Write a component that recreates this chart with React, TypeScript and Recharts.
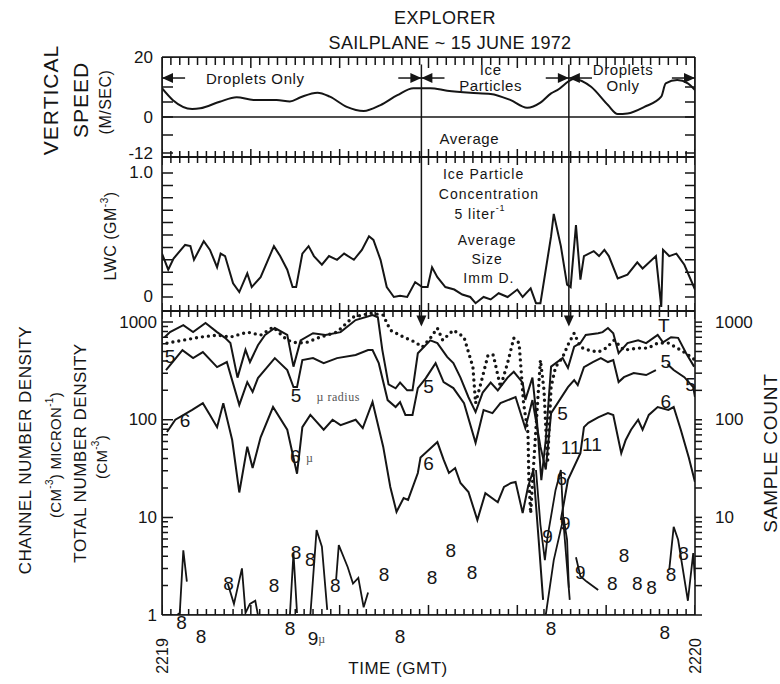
import React from 'react';
import { ComposedChart, Line, XAxis, YAxis, ReferenceLine, ReferenceDot } from 'recharts';

const W = 780;
const H = 684;
const INK = '#151515';
const FONT = '"Liberation Sans", Arial, sans-serif';
const SERIF = '"Liberation Serif", "DejaVu Serif", serif';

type Pt = [number, number | null];
type Note = [number, number, string];

// seconds after 2219 GMT
const secondTicks = Array.from({ length: 61 }, (_, i) => i);
const timeTicks = [0, 60];
const timeLabels = ['2219', '2220'];

const speedTicks = [20, 10, 5, 0, -6, -12];
const speedLabelled = [20, 0, -12];
const lwcTicks = [0, 0.1, 0.2, 0.3, 0.4, 0.5, 0.6, 0.7, 0.8, 0.9, 1.0];
const lwcLabelled = [0, 1.0];
const decades = [1, 10, 100, 1000];
const densityTicks = [1, 2, 3, 4, 5, 6, 7, 8, 9, 10, 20, 30, 40, 50, 60, 70, 80, 90, 100, 200, 300, 400, 500, 600, 700, 800, 900, 1000];

// sailplane vertical speed (m/s)
const speedPts: Pt[] = [
  [0, 9.6], [1.2, 5.7], [3.4, 2.7], [4.3, 2.9], [6.5, 5.1], [8.4, 6.6], [10.3, 5.7], [12.9, 5.7], [14.4, 5.2], [15.6, 6.6],
  [17.5, 8.1], [18.9, 6.8], [20.8, 3.4], [22.7, 2.0], [24.6, 4.0], [26.5, 7.3], [28.3, 9.6], [30.2, 9.6], [32.1, 8.8], [34.7, 8.1],
  [37.0, 7.7], [39.2, 5.7], [41.1, 3.1], [42.6, 4.8], [43.8, 7.9], [44.5, 9.0], [46.4, 12.7], [48.3, 10.1], [50.2, 4.0], [51.3, 1.0],
  [52.4, 1.2], [54.3, 3.4], [56.2, 6.8], [56.7, 11.2], [58.0, 12.3], [59.2, 11.2], [60, 9.0],
];

// liquid water content (g/m3)
const lwcPts: Pt[] = [
  [0, 0.35], [0.7, 0.22], [1.3, 0.31], [2.6, 0.42], [3.2, 0.41], [3.6, 0.3], [4.7, 0.45], [5.4, 0.38], [6.2, 0.24], [6.6, 0.35],
  [7.1, 0.33], [8.0, 0.11], [8.7, 0.04], [9.6, 0.19], [10.1, 0.08], [11.1, 0.16], [12.6, 0.41], [13.3, 0.33], [14.1, 0.22], [14.7, 0.08],
  [15.1, 0.08], [15.8, 0.35], [16.5, 0.41], [17.1, 0.33], [18.0, 0.26], [18.8, 0.33], [19.7, 0.3], [20.5, 0.35], [21.6, 0.3], [22.5, 0.38],
  [23.3, 0.49], [23.8, 0.46], [24.6, 0.3], [25.3, 0.08], [26.1, 0.0], [26.8, 0.01], [27.6, 0.0], [28.5, 0.12], [29.3, 0.08], [29.9, 0.08],
  [30.4, 0.24], [31.0, 0.16], [31.9, 0.08], [32.9, 0.06], [33.8, 0.02], [34.7, 0.0], [35.3, -0.05], [36.2, 0.0], [37.0, -0.02], [37.9, 0.03],
  [38.9, 0.0], [40.0, 0.06], [40.6, 0.0], [41.5, 0.07], [42.1, -0.05], [42.6, -0.05], [43.8, 0.49], [44.1, 0.67], [44.9, 0.41], [45.6, 0.1],
  [46.0, 0.08], [46.6, 0.58], [47.1, 0.14], [47.5, 0.33], [48.6, 0.37], [49.2, 0.33], [49.8, 0.38], [50.3, 0.33], [51.3, 0.15], [52.4, 0.18],
  [53.5, 0.28], [54.1, 0.23], [55.6, 0.33], [56.2, -0.08], [56.4, 0.38], [57.1, 0.33], [57.9, 0.35], [58.8, 0.26], [60, 0.06],
];

// total number density (cm-3)
const totalPts: Pt[] = [
  [0.3, 700], [0.9, 790], [2.4, 930], [3.5, 790], [4.9, 980], [6.2, 790], [7.1, 690], [7.7, 610], [8.5, 270], [9.4, 520],
  [9.9, 390], [10.8, 580], [11.6, 740], [12.7, 870], [14.1, 740], [14.8, 350], [15.6, 650], [17.0, 770], [18.4, 740], [20.1, 790],
  [21.8, 1050], [23.7, 1180], [24.3, 1120], [24.8, 520], [25.5, 230], [26.3, 210], [26.8, 240], [27.6, 200], [28.2, 200], [28.8, 480],
  [30.2, 650], [31.0, 610], [32.1, 440], [32.8, 380], [33.6, 270], [34.5, 170], [35.3, 120], [36.1, 190], [37.0, 240], [37.8, 200],
  [38.9, 270], [39.6, 310], [40.6, 240], [40.9, 160], [41.7, 270], [42.2, 100], [42.7, 24], [43.2, 62], [43.8, 350], [45.1, 430],
  [45.7, 340], [46.4, 560], [47.1, 610], [47.7, 740], [49.1, 770], [49.6, 790], [50.2, 870], [50.8, 770], [51.4, 480], [52.4, 610],
  [53.6, 650], [54.5, 610], [55.8, 740], [56.4, 620], [57.3, 700], [58.1, 690], [59.0, 480], [59.9, 350],
];

// sample count (dotted)
const samplePts: Pt[] = [
  [0.56, 610], [2.4, 654], [4.3, 702], [6.2, 736], [7.7, 702], [9.6, 790], [11.1, 736], [12.5, 889], [14.1, 654], [15.2, 610],
  [16.4, 624], [17.8, 702], [19.7, 790], [21.5, 1125], [23.5, 1236], [24.9, 1179], [25.7, 828], [27.2, 702], [28.5, 624], [29.3, 555],
  [30.2, 686], [31.0, 868], [31.6, 654], [32.8, 828], [34.0, 702], [35.0, 346], [35.3, 148], [35.9, 237], [36.7, 460], [37.3, 460],
  [38.1, 216], [38.9, 380], [39.6, 686], [40.2, 610], [40.7, 148], [41.2, 73], [41.3, 24], [41.5, 11], [41.8, 31], [42.3, 159],
  [42.6, 409], [43.0, 202], [43.4, 36], [43.8, 216], [44.3, 346], [45.1, 438], [45.8, 610], [46.4, 771], [47.1, 555], [48.0, 517],
  [49.1, 493], [50.0, 542], [50.9, 654], [52.0, 517], [53.6, 542], [54.7, 542], [55.8, 610], [57.0, 610], [58.4, 517], [59.6, 438],
  [60, 409],
];

// channel 5
const ch5Pts: Pt[] = [
  [0.45, 323], [2.3, 517], [3.5, 428], [4.6, 493], [6.2, 346], [7.3, 390], [8.7, 142], [9.6, 243], [10.2, 193], [10.8, 267],
  [12.7, 428], [14.1, 323], [14.8, 216], [15.2, 216], [15.8, 409], [17.0, 428], [18.2, 380], [19.7, 428], [21.8, 460], [23.2, 517],
  [23.7, 517], [24.4, 380], [25.4, 159], [26.3, 135], [26.8, 152], [27.4, 112], [28.2, 112], [28.8, 211], [29.7, 267], [30.8, 380],
  [31.7, 243], [32.8, 211], [34.0, 148], [35.3, 58], [36.2, 126], [37.2, 117], [38.1, 148], [39.8, 171], [40.9, 82], [41.7, 159],
  [42.6, 53], [43.2, 31], [43.8, 117], [45.7, 216], [46.4, 255], [46.8, 227], [47.5, 346], [48.5, 390], [49.4, 428], [50.2, 390],
  [50.8, 409], [51.4, 243], [52.0, 273], [53.1, 301], [54.5, 287], [55.6, 323], [56.2, null], [56.9, 371], [57.6, 323], [58.8, 273],
  [59.8, 216], [60, 171],
];

// channel 6
const ch6Pts: Pt[] = [
  [0.56, 75], [1.5, 100], [3.4, 126], [4.6, 148], [5.4, 112], [6.2, 84], [6.9, 148], [7.9, 62], [8.7, 18], [9.6, 53],
  [10.2, 32], [11.1, 66], [12.5, 135], [14.1, 79], [15.2, 28], [15.8, 84], [16.7, 112], [18.2, 79], [19.2, 100], [20.1, 88],
  [21.8, 100], [22.6, 82], [23.7, 152], [24.9, 53], [25.7, 20.5], [26.4, 11.4], [27.2, 15.8], [27.7, 15.1], [28.8, 28.5], [29.1, 41],
  [31.0, 59], [31.7, 39], [32.3, 28.5], [33.0, 32], [33.6, 22.5], [34.5, 18.2], [35.5, 9.4], [36.4, 17.7], [37.8, 14.3], [38.5, 20.5],
  [39.3, 22.5], [39.8, 23.1], [40.6, 11.1], [41.2, 20.5], [41.8, 30.6], [42.4, 5.9], [42.9, 1.43], [43.5, null], [44.9, 9.4], [45.7, 24.2],
  [47.1, 45.5], [47.5, 84], [48.0, 93], [49.1, 106], [50.2, 117], [50.8, 112], [51.7, 45.5], [52.2, 62], [52.8, 79], [53.6, 100],
  [54.1, 79], [54.8, 112], [55.8, 135], [57.0, 126], [57.6, 135], [58.4, 79], [59.3, 41], [60, 23],
];

// channel 8 (broken trace)
const ch8Pts: Pt[] = [
  [1.7, 1.0], [2.0, 1.05], [2.4, 4.6], [2.8, 2.2], [3.2, null], [7.4, 2.1], [8.1, 1.3], [9.0, 3.0], [9.4, 1.05], [9.9, 1.3],
  [10.5, 1.4], [10.8, 1.0], [11.2, null], [14.4, 1.0], [14.8, 4.3], [15.2, 1.05], [15.5, null], [16.7, 1.0], [17.4, 7.4], [18.0, 5.0],
  [18.6, 1.13], [19.0, null], [19.6, 2.3], [19.9, 5.2], [20.9, 3.1], [21.5, 2.1], [22.1, 2.4], [22.7, 1.2], [23.2, 1.7], [23.6, null],
  [43.2, 1.0], [44.1, 3.65], [45.2, 10], [45.6, 5.9], [45.8, 1.9], [46.1, null], [46.6, 3.9], [47.1, 2.5], [47.8, 2.2], [49.1, 1.8],
  [49.5, null], [57.1, 2.9], [57.6, 8.0], [58.1, 5.9], [59.2, 1.4], [59.8, 4.3], [60, 2.3],
];

// channel 9
const ch9Pts: Pt[] = [
  [42.1, 30.6], [42.6, 8.4], [43.1, 3.65], [43.4, 6.3], [44.3, 19], [44.9, 30.6], [45.2, 8.6], [45.9, 1.43],
];

// phase boundaries (s) and labels
const phaseEdges = [0, 29.2, 45.8, 60];
const speedNotes: Note[] = [
  [10.5, 13, 'Droplets Only'], [37, 15.7, 'Ice'], [37, 10.4, 'Particles'], [51.9, 15.7, 'Droplets'], [51.9, 10.4, 'Only'], [34.6, -7, 'Average'],
];
const lwcNotes: Note[] = [
  [36.2, 0.99, 'Ice Particle'], [36.8, 0.83, 'Concentration'], [36.6, 0.46, 'Average'], [36.6, 0.31, 'Size'], [36.8, 0.15, 'Imm D.'],
];
const lwcSupNote: Note = [35.8, 0.67, '5 liter'];

const densityNotes: Note[] = [
  [0.9, 441, '5'], [2.6, 99, '6'], [15.1, 179, '5'], [15.0, 42, '6'], [30.0, 218, '5'], [30.0, 36, '6'], [45.1, 116, '5'],
  [46.0, 52, '11'], [48.4, 56, '11'], [45.0, 25, '6'], [43.4, 6.3, '9'], [45.4, 8.6, '9'], [47.1, 2.7, '9'],
  [52.0, 4.1, '8'], [50.7, 2.1, '8'], [53.5, 2.1, '8'], [55.1, 1.9, '8'], [57.3, 2.6, '8'], [58.7, 4.3, '8'],
  [56.7, 393, '5'], [59.5, 227, '5'], [56.7, 153, '6'], [56.5, 932, 'T'],
  [7.5, 2.1, '8'], [15.1, 4.4, '8'], [16.7, 3.7, '8'], [12.6, 2.0, '8'], [19.5, 2.0, '8'], [25.0, 2.6, '8'], [30.4, 2.4, '8'],
  [32.5, 4.6, '8'], [34.9, 2.7, '8'],
  [2.2, 0.83, '8'], [4.4, 0.6, '8'], [14.4, 0.72, '8'], [17.0, 0.57, '9'], [26.8, 0.6, '8'], [43.8, 0.72, '8'], [56.6, 0.66, '8'],
];
const micronNotes: Note[] = [[17.4, 172, '\u00b5 radius'], [16.2, 41, '\u00b5'], [17.6, 0.57, '\u00b5']];

const rows = (pts: Pt[]) => pts.map(([t, v]) => ({ t, v }));

const axisStyle = { stroke: INK, strokeWidth: 1.6 };
const lineStyle = { stroke: INK, strokeWidth: 2, dot: false, isAnimationActive: false, connectNulls: false };
const combStyle = { stroke: INK, strokeWidth: 1.5, dot: false, isAnimationActive: false, strokeLinejoin: 'miter' as const };
const chartBox: React.CSSProperties = { position: 'absolute', left: 0, top: 0 };

// plot frame in pixels, used only to turn tick lengths into data units
const PLOT_W = 533;
const PX_PER_SEC = PLOT_W / 60;

// tick combs: one polyline per edge that runs along the frame and steps in at every tick
const combX = (edge: number, inner: (t: number) => number) =>
  secondTicks.flatMap((t) => [{ t, v: edge }, { t, v: inner(t) }, { t, v: edge }]);
const combY = (edgeT: number, dir: number, ticks: number[], lenOf: (v: number) => number) =>
  ticks.flatMap((v) => [{ t: edgeT, v }, { t: edgeT + (dir * lenOf(v)) / PX_PER_SEC, v }, { t: edgeT, v }]);

// text-only tick for value labels
const mkYLabel = (side: 'left' | 'right', labelOf: (v: number) => string, gap: number) =>
  function YLabel(p: any) {
    const v = Number(p.payload.value);
    const lab = labelOf(v);
    if (!lab) return <g />;
    return (
      <text
        x={side === 'left' ? p.x - gap : p.x + gap}
        y={p.y}
        textAnchor={side === 'left' ? 'end' : 'start'}
        dominantBaseline="central"
        fontFamily={FONT}
        fontSize={17}
        fill={INK}
      >
        {lab}
      </text>
    );
  };

const textShape = (text: string, size: number, anchor: 'start' | 'middle' = 'middle', family = FONT, spacing = 0, fill = INK) =>
  function TextShape(p: any) {
    return (
      <text
        x={p.cx}
        y={p.cy}
        textAnchor={anchor}
        dominantBaseline="central"
        fontFamily={family}
        fontSize={size}
        letterSpacing={spacing}
        fill={fill}
      >
        {text}
      </text>
    );
  };

const timeShape = (text: string) =>
  function TimeText(p: any) {
    return (
      <text
        transform={`translate(${p.cx},${p.cy + 41}) rotate(-90)`}
        textAnchor="middle"
        dominantBaseline="central"
        fontFamily={FONT}
        fontSize={16}
        fill={INK}
      >
        {text}
      </text>
    );
  };

const arrowShape = (dir: 'left' | 'right' | 'down') =>
  function Arrow(p: any) {
    const { cx, cy } = p;
    const d =
      dir === 'left'
        ? `M${cx},${cy} L${cx + 11},${cy - 5} L${cx + 11},${cy + 5} Z`
        : dir === 'right'
        ? `M${cx},${cy} L${cx - 11},${cy - 5} L${cx - 11},${cy + 5} Z`
        : `M${cx},${cy} L${cx - 5},${cy - 11} L${cx + 5},${cy - 11} Z`;
    return <path d={d} fill={INK} />;
  };

function frame(domain: number[], log = false) {
  const common = { type: 'number' as const, allowDataOverflow: true, tick: false, tickLine: false, axisLine: axisStyle };
  return [
    <XAxis key="xb" xAxisId={0} orientation="bottom" dataKey="t" domain={[0, 60]} mirror height={1} {...common} />,
    <XAxis key="xt" xAxisId="top" orientation="top" dataKey="t" domain={[0, 60]} mirror height={1} {...common} />,
    <YAxis key="yl" yAxisId={0} orientation="left" scale={log ? 'log' : 'auto'} domain={domain} mirror width={1} {...common} />,
  ];
}

function yLabels(orientation: 'left' | 'right', domain: number[], ticks: number[], labelOf: (v: number) => string, gap: number, log = false) {
  return (
    <YAxis
      key={`lab-${orientation}`}
      yAxisId={`lab-${orientation}`}
      orientation={orientation}
      type="number"
      scale={log ? 'log' : 'auto'}
      domain={domain}
      ticks={ticks}
      interval={0}
      allowDataOverflow
      width={40}
      tickLine={false}
      tickSize={0}
      tickMargin={0}
      axisLine={orientation === 'right' ? axisStyle : false}
      tick={mkYLabel(orientation, labelOf, gap)}
    />
  );
}

const SPEED_DOMAIN = [-13.3, 20];
const LWC_DOMAIN = [-0.113, 1.129];
const DENSITY_DOMAIN = [1, 1300];
const SPEED_PX = 100 / (SPEED_DOMAIN[1] - SPEED_DOMAIN[0]);
const LWC_PX = 154 / (LWC_DOMAIN[1] - LWC_DOMAIN[0]);
const DECADE_PX = 304 / Math.log10(DENSITY_DOMAIN[1] / DENSITY_DOMAIN[0]);
const tickLen = (t: number, minor: number, major: number) => (t % 10 === 0 ? major : minor);

function SpeedPanel() {
  const arrowY = 13;
  const [lo, hi] = SPEED_DOMAIN;
  return (
    <div style={chartBox}>
      <ComposedChart width={W} height={H} margin={{ top: 57, right: 45, bottom: 527, left: 122 }}>
        {frame(SPEED_DOMAIN)}
        {yLabels('left', SPEED_DOMAIN, speedLabelled, (v) => String(v), 9)}
        {yLabels('right', SPEED_DOMAIN, speedLabelled, () => '', 0)}
        <Line data={combX(hi, (t) => hi - tickLen(t, 8, 11) / SPEED_PX)} dataKey="v" {...combStyle} />
        <Line data={combX(lo, (t) => lo + tickLen(t, 6, 8) / SPEED_PX)} dataKey="v" {...combStyle} />
        <Line data={combY(0, 1, speedTicks, () => 11)} dataKey="v" {...combStyle} />
        <Line data={combY(60, -1, speedTicks, () => 10)} dataKey="v" {...combStyle} />
        <ReferenceLine y={0} stroke={INK} strokeWidth={1.6} />
        {phaseEdges.slice(1, 3).map((e) => (
          <ReferenceLine key={`v${e}`} segment={[{ x: e, y: 17.5 }, { x: e, y: -13.3 }]} stroke={INK} strokeWidth={1.5} />
        ))}
        {phaseEdges.map((e, i) => (
          <React.Fragment key={`a${e}`}>
            {i > 0 && <ReferenceLine segment={[{ x: e - 2.6, y: arrowY }, { x: e, y: arrowY }]} stroke={INK} strokeWidth={1.5} />}
            {i < phaseEdges.length - 1 && <ReferenceLine segment={[{ x: e, y: arrowY }, { x: e + 2.6, y: arrowY }]} stroke={INK} strokeWidth={1.5} />}
            {i > 0 && <ReferenceDot x={e} y={arrowY} r={1} ifOverflow="visible" shape={arrowShape('right')} />}
            {i < phaseEdges.length - 1 && <ReferenceDot x={e} y={arrowY} r={1} ifOverflow="visible" shape={arrowShape('left')} />}
          </React.Fragment>
        ))}
        {speedNotes.map(([t, v, s]) => (
          <ReferenceDot key={`s${s}${t}`} x={t} y={v} r={1} ifOverflow="visible" shape={textShape(s, 15, 'middle', FONT, 0.6)} />
        ))}
        <Line data={rows(speedPts)} dataKey="v" type="monotone" {...lineStyle} />
      </ComposedChart>
    </div>
  );
}

function LwcPanel() {
  const [lo, hi] = LWC_DOMAIN;
  const supShape = (p: any) => (
    <text x={p.cx} y={p.cy} textAnchor="middle" dominantBaseline="central" fontFamily={FONT} fontSize={14} letterSpacing={1} fill={INK}>
      {lwcSupNote[2]}
      <tspan dy={-6} fontSize={9}>-1</tspan>
    </text>
  );
  return (
    <div style={chartBox}>
      <ComposedChart width={W} height={H} margin={{ top: 157, right: 45, bottom: 373, left: 122 }}>
        {frame(LWC_DOMAIN)}
        {yLabels('left', LWC_DOMAIN, lwcLabelled, (v) => (v === 1 ? '1.0' : '0'), 9)}
        {yLabels('right', LWC_DOMAIN, lwcLabelled, () => '', 0)}
        <Line data={combX(hi, (t) => hi - tickLen(t, 6, 8) / LWC_PX)} dataKey="v" {...combStyle} />
        <Line data={combX(lo, (t) => lo + tickLen(t, 6, 8) / LWC_PX)} dataKey="v" {...combStyle} />
        <Line data={combY(0, 1, lwcTicks, () => 11)} dataKey="v" {...combStyle} />
        <Line data={combY(60, -1, lwcTicks, () => 10)} dataKey="v" {...combStyle} />
        {phaseEdges.slice(1, 3).map((e) => (
          <ReferenceLine key={`v${e}`} x={e} stroke={INK} strokeWidth={1.5} />
        ))}
        {lwcNotes.map(([t, v, s]) => (
          <ReferenceDot key={`l${s}`} x={t} y={v} r={1} ifOverflow="visible" shape={textShape(s, 14, 'middle', FONT, 1)} />
        ))}
        <ReferenceDot x={lwcSupNote[0]} y={lwcSupNote[1]} r={1} ifOverflow="visible" shape={supShape} />
        <Line data={rows(lwcPts)} dataKey="v" type="linear" {...lineStyle} />
      </ComposedChart>
    </div>
  );
}

function DensityPanel() {
  const [lo, hi] = DENSITY_DOMAIN;
  const isDecade = (v: number) => decades.includes(v);
  return (
    <div style={chartBox}>
      <ComposedChart width={W} height={H} margin={{ top: 311, right: 45, bottom: 69, left: 122 }}>
        {frame(DENSITY_DOMAIN, true)}
        {yLabels('left', DENSITY_DOMAIN, decades, (v) => String(v), 5, true)}
        <YAxis
          yAxisId="lab-right"
          orientation="right"
          type="number"
          scale="log"
          domain={DENSITY_DOMAIN}
          ticks={densityTicks}
          interval={0}
          allowDataOverflow
          width={40}
          tickLine={{ stroke: INK, strokeWidth: 1.5 }}
          tickSize={7}
          tickMargin={0}
          axisLine={axisStyle}
          tick={mkYLabel('right', (v) => (isDecade(v) && v > 1 ? String(v) : ''), 13)}
        />
        <Line data={combX(hi, (t) => hi / 10 ** (tickLen(t, 6, 8) / DECADE_PX))} dataKey="v" {...combStyle} />
        <Line data={combX(lo, (t) => lo * 10 ** (tickLen(t, 6, 10) / DECADE_PX))} dataKey="v" {...combStyle} />
        <Line data={combY(0, 1, densityTicks, (v) => (isDecade(v) ? 11 : 6))} dataKey="v" {...combStyle} />
        {timeTicks.map((t, i) => (
          <ReferenceDot key={`time${t}`} x={t} y={lo} r={1} ifOverflow="visible" shape={timeShape(timeLabels[i])} />
        ))}
        {phaseEdges.slice(1, 3).map((e) => (
          <React.Fragment key={`d${e}`}>
            <ReferenceLine segment={[{ x: e, y: 1300 }, { x: e, y: 950 }]} stroke={INK} strokeWidth={1.5} />
            <ReferenceDot x={e} y={900} r={1} ifOverflow="visible" shape={arrowShape('down')} />
          </React.Fragment>
        ))}
        <Line data={rows(totalPts)} dataKey="v" type="linear" {...lineStyle} />
        <Line data={rows(ch5Pts)} dataKey="v" type="linear" {...lineStyle} />
        <Line data={rows(ch6Pts)} dataKey="v" type="linear" {...lineStyle} />
        <Line data={rows(ch8Pts)} dataKey="v" type="linear" {...lineStyle} strokeWidth={1.8} />
        <Line data={rows(ch9Pts)} dataKey="v" type="linear" {...lineStyle} strokeWidth={1.8} />
        <Line
          yAxisId="lab-right"
          data={rows(samplePts)}
          dataKey="v"
          type="linear"
          {...lineStyle}
          strokeWidth={3.4}
          strokeDasharray="0 6"
          strokeLinecap="round"
        />
        {densityNotes.map(([t, v, s], i) => (
          <ReferenceDot key={`n${i}`} x={t} y={v} r={1} ifOverflow="visible" shape={textShape(s, 19)} />
        ))}
        {micronNotes.map(([t, v, s], i) => (
          <ReferenceDot key={`m${i}`} x={t} y={v} r={1} ifOverflow="visible" shape={textShape(s, 12, 'start', SERIF, 0.5, '#555')} />
        ))}
      </ComposedChart>
    </div>
  );
}

function Labels() {
  const t = { fontFamily: FONT, fill: INK, textAnchor: 'middle' as const, dominantBaseline: 'central' as const };
  const rot = (x: number, y: number) => `translate(${x},${y}) rotate(-90)`;
  return (
    <svg width={W} height={H} style={{ position: 'absolute', left: 0, top: 0, pointerEvents: 'none' }}>
      <text {...t} x={445} y={18} fontSize={18} letterSpacing={0.5}>EXPLORER</text>
      <text {...t} x={450} y={43} fontSize={18} letterSpacing={0.3}>SAILPLANE ~ 15 JUNE 1972</text>
      <text {...t} transform={rot(50, 100)} fontSize={21} letterSpacing={1}>VERTICAL</text>
      <text {...t} transform={rot(80, 100)} fontSize={21} letterSpacing={1}>SPEED</text>
      <text {...t} transform={rot(105, 102)} fontSize={16} letterSpacing={0.5}>(M/SEC)</text>
      <text {...t} transform={rot(110, 236)} fontSize={16} letterSpacing={0.5}>
        LWC (GM<tspan dy={-6} fontSize={10}>-3</tspan><tspan dy={6}>)</tspan>
      </text>
      <text {...t} transform={rot(25, 450)} fontSize={17} letterSpacing={0.5}>CHANNEL NUMBER DENSITY</text>
      <text {...t} transform={rot(55, 455)} fontSize={15} letterSpacing={0.3}>
        (CM<tspan dy={-6} fontSize={10}>-3</tspan><tspan dy={6}>) MICRON</tspan><tspan dy={-6} fontSize={10}>-1</tspan><tspan dy={6}>)</tspan>
      </text>
      <text {...t} transform={rot(80, 453)} fontSize={17} letterSpacing={0.5}>TOTAL NUMBER DENSITY</text>
      <text {...t} transform={rot(101, 457)} fontSize={15} letterSpacing={0.3}>
        (CM<tspan dy={-6} fontSize={10}>-3</tspan><tspan dy={6}>)</tspan>
      </text>
      <text {...t} transform={rot(770, 453)} fontSize={19} letterSpacing={0.8}>SAMPLE COUNT</text>
      <text {...t} x={398} y={668} fontSize={17} letterSpacing={0.5}>TIME (GMT)</text>
    </svg>
  );
}

export default function App() {
  return (
    <div style={{ position: 'absolute', left: 0, top: 0, width: W, height: H, background: '#fff', overflow: 'hidden' }}>
      <SpeedPanel />
      <LwcPanel />
      <DensityPanel />
      <Labels />
    </div>
  );
}
